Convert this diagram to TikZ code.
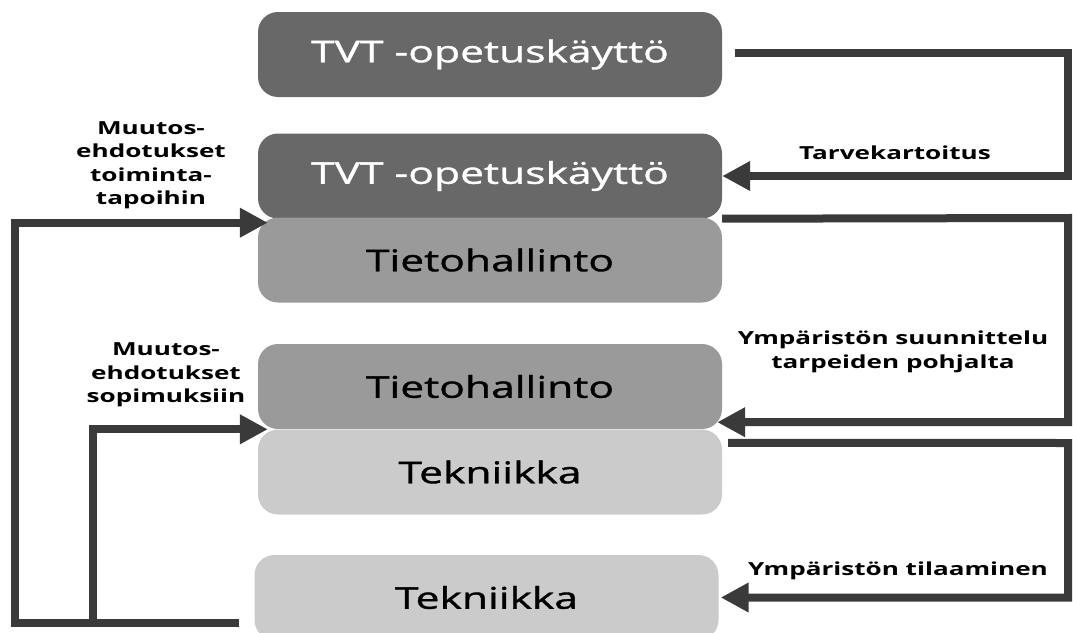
\documentclass[tikz,border=0pt]{standalone}
\usepackage{fontspec}
\setmainfont{Open Sans}
\newfontfamily\boxfont[FakeStretch=1.42,FakeBold=1.2]{Open Sans}
\newfontfamily\labelfont[FakeStretch=1.45]{Open Sans}
\usetikzlibrary{arrows.meta}
\definecolor{boxdark}{HTML}{686868}
\definecolor{boxmid}{HTML}{9A9A9A}
\definecolor{boxlight}{HTML}{CBCBCB}
\definecolor{flowline}{HTML}{3A3A3A}
\begin{document}
\begin{tikzpicture}[x=1pt,y=-1pt,
  box/.style={rounded corners=20pt, minimum width=464pt, minimum height=85pt,
    inner sep=0pt, font=\boxfont\fontsize{30}{36}\selectfont},
  flow/.style={draw=flowline, line width=8pt,
    -{Triangle[length=28pt,width=28pt]}},
  lbl/.style={font=\labelfont\bfseries\fontsize{18}{23.5}\selectfont, align=center, inner sep=0pt}]
\useasboundingbox (0,0) rectangle (1073,632);

% boxes
\node[box, fill=boxdark, text=white] (b1) at (490,54.5) {TVT -opetuskäyttö};
\node[box, fill=boxdark, text=white] (b2) at (490,176) {TVT -opetuskäyttö};
\node[box, fill=boxmid] (b3) at (490,260) {Tietohallinto};
\node[box, fill=boxmid] (b4) at (490,386.5) {Tietohallinto};
\node[box, fill=boxlight] (b5) at (490,472) {Tekniikka};
\node[box, fill=boxlight] (b6) at (486.5,597.5) {Tekniikka};

% right-hand loops
\draw[flow] ([xshift=13pt,yshift=2pt]b1.east) -- (1068,52.5) |- (b2.east);
\draw[flow] (b2.south east) -- (1068,218) |- ([xshift=-5pt,yshift=7pt]b4.south east);
\draw[flow] ([xshift=6pt,yshift=-13.5pt]b5.north east) -- (1068,443) |- ([xshift=2pt]b6.east);

% left-hand loops
\coordinate (start) at ([xshift=-15pt,yshift=-25.5pt]b6.west);
\coordinate (join) at (93,623);
\draw[flow] (start) -- (15,623) |- ([xshift=10pt,yshift=-4pt]b2.south west);
\draw[flow] (join) |- ([xshift=10pt]b5.north west);

% labels
\node[lbl] (l1) at (151,165) {Muutos-\\ehdotukset\\toiminta-\\tapoihin};
\node[lbl] (l2) at (166,375) {Muutos-\\ehdotukset\\sopimuksiin};
\node[lbl] (l3) at (895,153) {Tarvekartoitus};
\node[lbl] (l4) at (893,352) {Ympäristön suunnittelu\\tarpeiden pohjalta};
\node[lbl] (l5) at (898,571) {Ympäristön tilaaminen};
\end{tikzpicture}
\end{document}
